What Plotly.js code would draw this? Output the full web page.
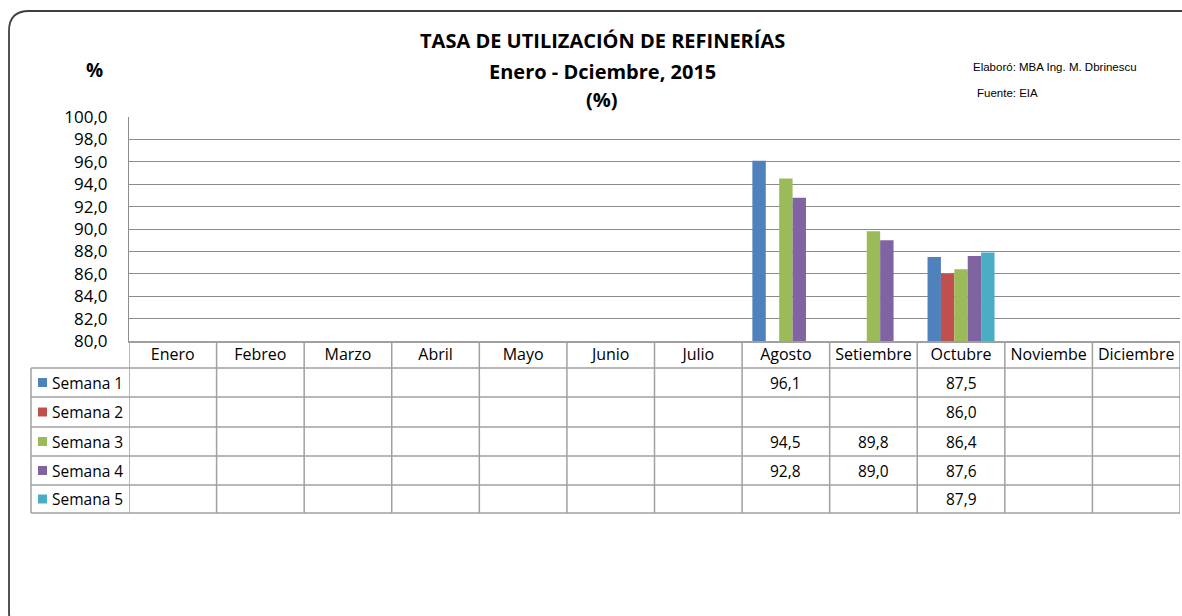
<!DOCTYPE html>
<html>
<head>
<meta charset="utf-8">
<script src="https://cdn.plot.ly/plotly-3.0.1.min.js"></script>
<style>html,body{margin:0;padding:0;background:#fff;}#chart{width:1182px;height:616px;}</style>
</head>
<body>
<div id="chart"></div>
<script>
const months = ['Enero','Febreo','Marzo','Abril','Mayo','Junio','Julio','Agosto','Setiembre','Octubre','Noviembe','Diciembre'];
const seriesNames = ['Semana 1','Semana 2','Semana 3','Semana 4','Semana 5'];
const semana1 = [null,null,null,null,null,null,null,96.1,null,87.5,null,null];
const semana2 = [null,null,null,null,null,null,null,null,null,86.0,null,null];
const semana3 = [null,null,null,null,null,null,null,94.5,89.8,86.4,null,null];
const semana4 = [null,null,null,null,null,null,null,92.8,89.0,87.6,null,null];
const semana5 = [null,null,null,null,null,null,null,null,null,87.9,null,null];
const seriesColors = ['#4F81BD','#C0504D','#9BBB59','#8064A2','#4BACC6'];
const yTicks = [80,82,84,86,88,90,92,94,96,98,100];

const series = [semana1, semana2, semana3, semana4, semana5];

// layout geometry (pixels)
const W = 1182, H = 616;
const PL = 129, PR = 1180, PT = 117, PB = 341;
const xp = px => (px - PL) / (PR - PL);
const yp = py => (PB - py) / (PB - PT);

const FONT = 'Open Sans, Lato, Liberation Sans, sans-serif';
const NARROW = 'Liberation Sans Narrow, Arial Narrow, Liberation Sans, sans-serif';
const GRID = '#8c8c8c';
const TBL = '#a0a0a0';

const traces = series.map((vals, i) => ({
  type: 'bar',
  name: seriesNames[i],
  x: months,
  y: vals,
  marker: {color: seriesColors[i], line: {width: 0}},
  hoverinfo: 'x+y+name'
}));

const shapes = [];
const annotations = [];

// table geometry
const rowEdges = [368, 397, 427, 456, 485, 513];
const tableLeft = 31;

// vertical lines at category boundaries
for (let i = 0; i <= months.length; i++) {
  shapes.push({type:'line', xref:'x', yref:'paper', x0:i-0.5, x1:i-0.5, y0:yp(rowEdges[rowEdges.length-1]), y1:0,
    line:{color:TBL, width:1.5}, layer:'above'});
}
// left border of legend column
shapes.push({type:'line', xref:'paper', yref:'paper', x0:xp(tableLeft), x1:xp(tableLeft),
  y0:yp(rowEdges[0]), y1:yp(rowEdges[rowEdges.length-1]), line:{color:TBL, width:1.5}});
// horizontal row lines
rowEdges.forEach(r => {
  shapes.push({type:'line', xref:'paper', yref:'paper', x0:xp(tableLeft), x1:1, y0:yp(r), y1:yp(r),
    line:{color:TBL, width:1.5}});
});

// row labels, legend keys and values
series.forEach((vals, i) => {
  const cy = (rowEdges[i] + rowEdges[i+1]) / 2;
  shapes.push({type:'rect', xref:'paper', yref:'paper', x0:xp(38), x1:xp(47), y0:yp(cy+4.5), y1:yp(cy-4.5),
    fillcolor:seriesColors[i], line:{width:0}});
  annotations.push({xref:'paper', yref:'paper', x:xp(50), y:yp(cy), xanchor:'left', yanchor:'middle',
    text:seriesNames[i], showarrow:false, font:{family:FONT, size:15.5, color:'#000'}});
  vals.forEach((v, j) => {
    if (v === null) return;
    annotations.push({xref:'x', yref:'paper', x:months[j], y:yp(cy), xanchor:'center', yanchor:'middle',
      text:v.toFixed(1).replace('.', ','), showarrow:false, font:{family:FONT, size:15.5, color:'#000'}});
  });
});

// titles
const titleLines = ['TASA DE UTILIZACIÓN DE REFINERÍAS', 'Enero - Dciembre, 2015', '(%)'];
const titleY = [40, 71, 100];
titleLines.forEach((t, i) => {
  annotations.push({xref:'paper', yref:'paper', x:xp(602), y:yp(titleY[i]), xanchor:'center', yanchor:'middle',
    text:'<b>'+t+'</b>', showarrow:false, font:{family:FONT, size:20, color:'#000'}});
});
annotations.push({xref:'paper', yref:'paper', x:xp(94), y:yp(70), xanchor:'center', yanchor:'middle',
  text:'<b>%</b>', showarrow:false, font:{family:FONT, size:19, color:'#000'}});
annotations.push({xref:'paper', yref:'paper', x:xp(971), y:yp(67), xanchor:'left', yanchor:'middle',
  text:'Elaboró: MBA Ing. M. Dbrinescu', showarrow:false, font:{family:NARROW, size:11.5, color:'#000'}});
annotations.push({xref:'paper', yref:'paper', x:xp(975), y:yp(93), xanchor:'left', yanchor:'middle',
  text:'Fuente: EIA', showarrow:false, font:{family:NARROW, size:11.5, color:'#000'}});

// outer rounded frame
const fL = 9, fT = 11, fR = 1205, fB = 632, rad = 20;
const P = (x, y) => xp(x) + ',' + yp(y);
const framePath = 'M' + P(fL, fB - rad) + ' L' + P(fL, fT + rad) + ' Q' + P(fL, fT) + ' ' + P(fL + rad, fT) +
  ' L' + P(fR - rad, fT) + ' Q' + P(fR, fT) + ' ' + P(fR, fT + rad) + ' L' + P(fR, fB - rad) +
  ' Q' + P(fR, fB) + ' ' + P(fR - rad, fB) + ' L' + P(fL + rad, fB) + ' Q' + P(fL, fB) + ' ' + P(fL, fB - rad) + ' Z';
shapes.push({type:'path', xref:'paper', yref:'paper', path:framePath, line:{color:'#404040', width:1.8}, fillcolor:'rgba(0,0,0,0)'});

const layout = {
  width: W, height: H,
  margin: {l: PL, r: W - PR, t: PT, b: H - PB, pad: 0},
  paper_bgcolor: '#fff', plot_bgcolor: '#fff',
  showlegend: false,
  barmode: 'group', bargap: 0.235, bargroupgap: 0,
  separators: ',.',
  font: {family: FONT, color: '#000'},
  xaxis: {
    type: 'category', range: [-0.5, 11.5], showgrid: false, zeroline: false,
    showline: true, linecolor: TBL, linewidth: 1.5, ticks: '',
    ticklabelstandoff: -2,
    tickfont: {family: FONT, size: 16, color: '#000'}, fixedrange: true
  },
  yaxis: {
    range: [80, 100], tickvals: yTicks, tickformat: '.1f',
    showgrid: true, gridcolor: GRID, gridwidth: 1, zeroline: false,
    showline: true, linecolor: GRID, linewidth: 1, ticks: '',
    ticklabelstandoff: 17,
    tickfont: {family: FONT, size: 17, color: '#000'}, fixedrange: true
  },
  shapes: shapes,
  annotations: annotations
};

Plotly.newPlot('chart', traces, layout, {displayModeBar: false, staticPlot: true});
</script>
</body>
</html>
